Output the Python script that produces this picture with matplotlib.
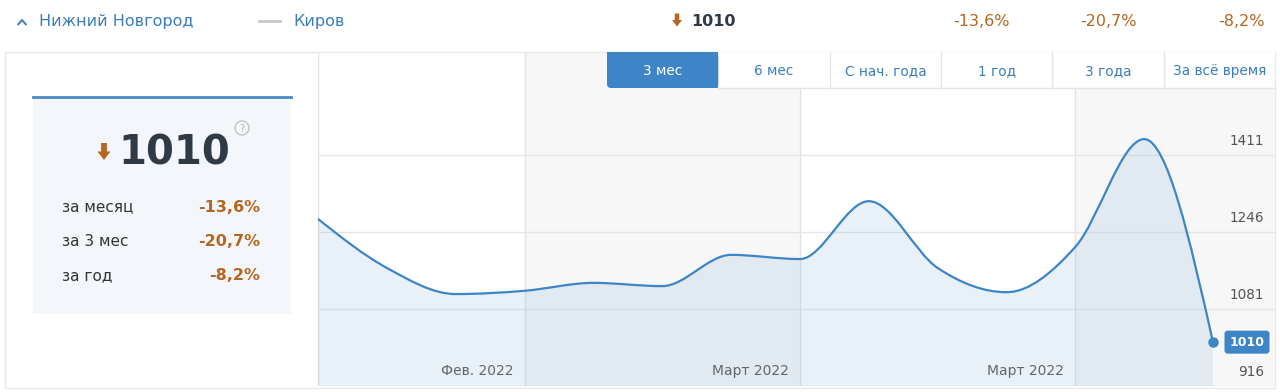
import numpy as np
import matplotlib
matplotlib.use("Agg")
import matplotlib.pyplot as plt
from matplotlib.path import Path
from matplotlib.patches import PathPatch, Rectangle, FancyBboxPatch, Polygon, Circle
from matplotlib import transforms as mtrans

# ---------------- data ----------------
values = [1274, 1169, 1113, 1120, 1137, 1130, 1197, 1188, 1312, 1169, 1117, 1214, 1445, 1010]
month_bounds = [3, 7, 11]
month_labels = ["Фев. 2022", "Март 2022", "Март 2022"]
yticks = [916, 1081, 1246, 1411]
city_main = "Нижний Новгород"
city_cmp = "Киров"
current = "1010"
period_names = ["за месяц", "за 3 мес", "за год"]
period_changes = ["-13,6%", "-20,7%", "-8,2%"]
tabs = ["3 мес", "6 мес", "С нач. года", "1 год", "3 года", "За всё время"]

BLUE = "#3d85c6"
TXTBLUE = "#3b7dbf"
ORANGE = "#b5671f"
DARK = "#2f3a45"
GRID = "#e6e6e6"

W, H = 1280, 392
fig = plt.figure(figsize=(W / 100, H / 100), dpi=100)
fig.patch.set_facecolor("white")

# background axes in pixel coords
bg = fig.add_axes([0, 0, 1, 1], zorder=0)
bg.set_xlim(0, W); bg.set_ylim(H, 0); bg.axis("off")

# overlay axes in pixel coords
ov = fig.add_axes([0, 0, 1, 1], zorder=10)
ov.set_xlim(0, W); ov.set_ylim(H, 0); ov.axis("off")
ov.patch.set_alpha(0)

# ---- panel border ----
bg.add_patch(Rectangle((5, 52), 1270, 336, facecolor="white", edgecolor="#e8e8e8", lw=1))

# ---- top row ----
ov.plot([18, 22, 26], [24.5, 20, 24.5], color=TXTBLUE, lw=1.4, solid_capstyle="round")
ov.text(39, 21, city_main, color=TXTBLUE, fontsize=11.5, va="center", ha="left")
ov.plot([259, 280], [21, 21], color="#c8c8c8", lw=2)
ov.text(293, 21, city_cmp, color=TXTBLUE, fontsize=11.5, va="center", ha="left")

def down_arrow(axx, cx, top, w, h, color):
    sw = w * 0.45
    sh = h * 0.5
    pts = [(cx - sw / 2, top), (cx + sw / 2, top), (cx + sw / 2, top + sh),
           (cx + w / 2, top + sh), (cx, top + h), (cx - w / 2, top + sh),
           (cx - sw / 2, top + sh)]
    axx.add_patch(Polygon(pts, closed=True, facecolor=color, edgecolor="none"))

down_arrow(ov, 677, 13.5, 10, 13, ORANGE)
ov.text(691, 21, current, color=DARK, fontsize=11.5, fontweight="bold", va="center", ha="left")
for txt, xr in zip(period_changes, [1010, 1137, 1265]):
    ov.text(xr, 21, txt, color=ORANGE, fontsize=11.5, va="center", ha="right")

# ---- left card ----
bg.add_patch(Rectangle((33, 96), 258, 218, facecolor="#f3f7fb", edgecolor="none"))
bg.plot([33, 291], [97, 97], color="#4a8ac6", lw=2)
down_arrow(bg, 104, 143, 13, 17, ORANGE)
bg.text(118, 153, current, color=DARK, fontsize=29, fontweight="bold", va="center", ha="left")
bg.add_patch(Circle((242, 128), 7, facecolor="none", edgecolor="#c4c4c4", lw=1))
bg.text(242, 128.5, "?", color="#b4b4b4", fontsize=7, va="center", ha="center")
for i, (nm, ch) in enumerate(zip(period_names, period_changes)):
    y = 207 + i * 34.5
    bg.text(62, y, nm, color="#333333", fontsize=11, va="center", ha="left")
    bg.text(260, y, ch, color=ORANGE, fontsize=11.5, fontweight="bold", va="center", ha="right")

# ---------------- chart axes ----------------
x = np.arange(len(values), dtype=float)
y = np.array(values, dtype=float)
px_per_unit = 77 / 165.0
ymin = yticks[0]
ymax = ymin + 334 / px_per_unit
step_px = (1213 - 318) / (len(values) - 1)
xmax = (len(values) - 1) + (1275 - 1213) / step_px

ax = fig.add_axes([318 / W, (H - 386) / H, (1275 - 318) / W, 334 / H], zorder=5)
ax.set_xlim(0, xmax)
ax.set_ylim(ymin, ymax)
for s in ax.spines.values():
    s.set_visible(False)
ax.set_xticks([]); ax.set_yticks([])
ax.set_facecolor("white")

# alternating columns
bounds = [0] + month_bounds + [xmax]
for i in range(len(bounds) - 1):
    if i % 2 == 1:
        ax.axvspan(bounds[i], bounds[i + 1], color="#f7f7f7", lw=0, zorder=0)
for b in month_bounds:
    ax.axvline(b, color="#e3e3e3", lw=1, zorder=1)
ax.axvline(0, color="#e3e3e3", lw=1, zorder=1)
for t in yticks:
    ax.axhline(t, color=GRID, lw=1, zorder=1)
ax.axhline(ymax, color="#e8e8e8", lw=1.5, zorder=1)

# monotone-x cubic (d3 style) bezier path
def slopes(xs, ys):
    n = len(xs)
    h = np.diff(xs)
    s = np.diff(ys) / h
    t = np.zeros(n)
    for i in range(1, n - 1):
        s0, s1 = s[i - 1], s[i]
        p = (s0 * h[i] + s1 * h[i - 1]) / (h[i - 1] + h[i])
        t[i] = (np.sign(s0) + np.sign(s1)) * min(abs(s0), abs(s1), 0.5 * abs(p))
    t[0] = (3 * s[0] - t[1]) / 2
    t[-1] = (3 * s[-1] - t[-2]) / 2
    return t

t = slopes(x, y)
verts = [(x[0], y[0])]
codes = [Path.MOVETO]
for i in range(len(x) - 1):
    dx = (x[i + 1] - x[i]) / 3
    verts += [(x[i] + dx, y[i] + dx * t[i]), (x[i + 1] - dx, y[i + 1] - dx * t[i + 1]), (x[i + 1], y[i + 1])]
    codes += [Path.CURVE4] * 3

fill_verts = [(x[0], ymin)] + verts + [(x[-1], ymin), (x[0], ymin)]
fill_codes = [Path.MOVETO, Path.LINETO] + codes[1:] + [Path.LINETO, Path.CLOSEPOLY]
ax.add_patch(PathPatch(Path(fill_verts, fill_codes), facecolor=BLUE, alpha=0.11, edgecolor="none", zorder=2))
ax.add_patch(PathPatch(Path(verts, codes), facecolor="none", edgecolor=BLUE, lw=1.6, zorder=3,
                       capstyle="round", joinstyle="round"))
ax.plot([x[-1]], [y[-1]], "o", color=BLUE, ms=6.5, zorder=4)

# month labels
off_lbl = mtrans.offset_copy(ax.transData, fig=fig, x=-11, y=0, units="dots")
for b, lab in zip(month_bounds, month_labels):
    ax.text(b, ymin + 15 / px_per_unit, lab, transform=off_lbl, ha="right", va="center",
            color="#666666", fontsize=10, zorder=5)

# y labels above grid lines
ylab_tr = mtrans.blended_transform_factory(ax.transAxes, ax.transData)
ylab_tr = ylab_tr + mtrans.ScaledTranslation(-11 / 100, 14 / 100, fig.dpi_scale_trans)
for tv in yticks:
    ax.text(1.0, tv, str(tv), transform=ylab_tr, ha="right", va="center",
            color="#555555", fontsize=9.8, zorder=5)

# end value badge
badge_tr = ax.transData + mtrans.ScaledTranslation(34 / 100, 0, fig.dpi_scale_trans)
ax.text(x[-1], y[-1], current, transform=badge_tr, ha="center", va="center", color="white",
        fontsize=9, fontweight="bold", zorder=6,
        bbox=dict(boxstyle="round,pad=0.4,rounding_size=0.25", facecolor=BLUE, edgecolor="none"))

# ---- tabs (overlay) ----
edges = np.linspace(607, 1275, len(tabs) + 1)
ov.add_patch(Rectangle((edges[1], 52), edges[-1] - edges[1], 36, facecolor="white", edgecolor="none"))
ov.plot([edges[1], edges[-1]], [88, 88], color="#e4e4e4", lw=1)
for e in edges[2:-1]:
    ov.plot([e, e], [52, 88], color="#e4e4e4", lw=1)
tw = edges[1] - edges[0]
ov.add_patch(FancyBboxPatch((edges[0], 52), tw, 36,
                            boxstyle="round,pad=0,rounding_size=4", facecolor=BLUE, edgecolor="none"))
ov.add_patch(Rectangle((edges[0], 52), tw, 12, facecolor=BLUE, edgecolor="none"))
ov.add_patch(Rectangle((edges[1] - 10, 52), 10, 36, facecolor=BLUE, edgecolor="none"))
for i, tb in enumerate(tabs):
    cx = (edges[i] + edges[i + 1]) / 2
    ov.text(cx, 71, tb, ha="center", va="center", fontsize=9.8,
            color="white" if i == 0 else TXTBLUE)

fig.savefig("out.png", dpi=100)
